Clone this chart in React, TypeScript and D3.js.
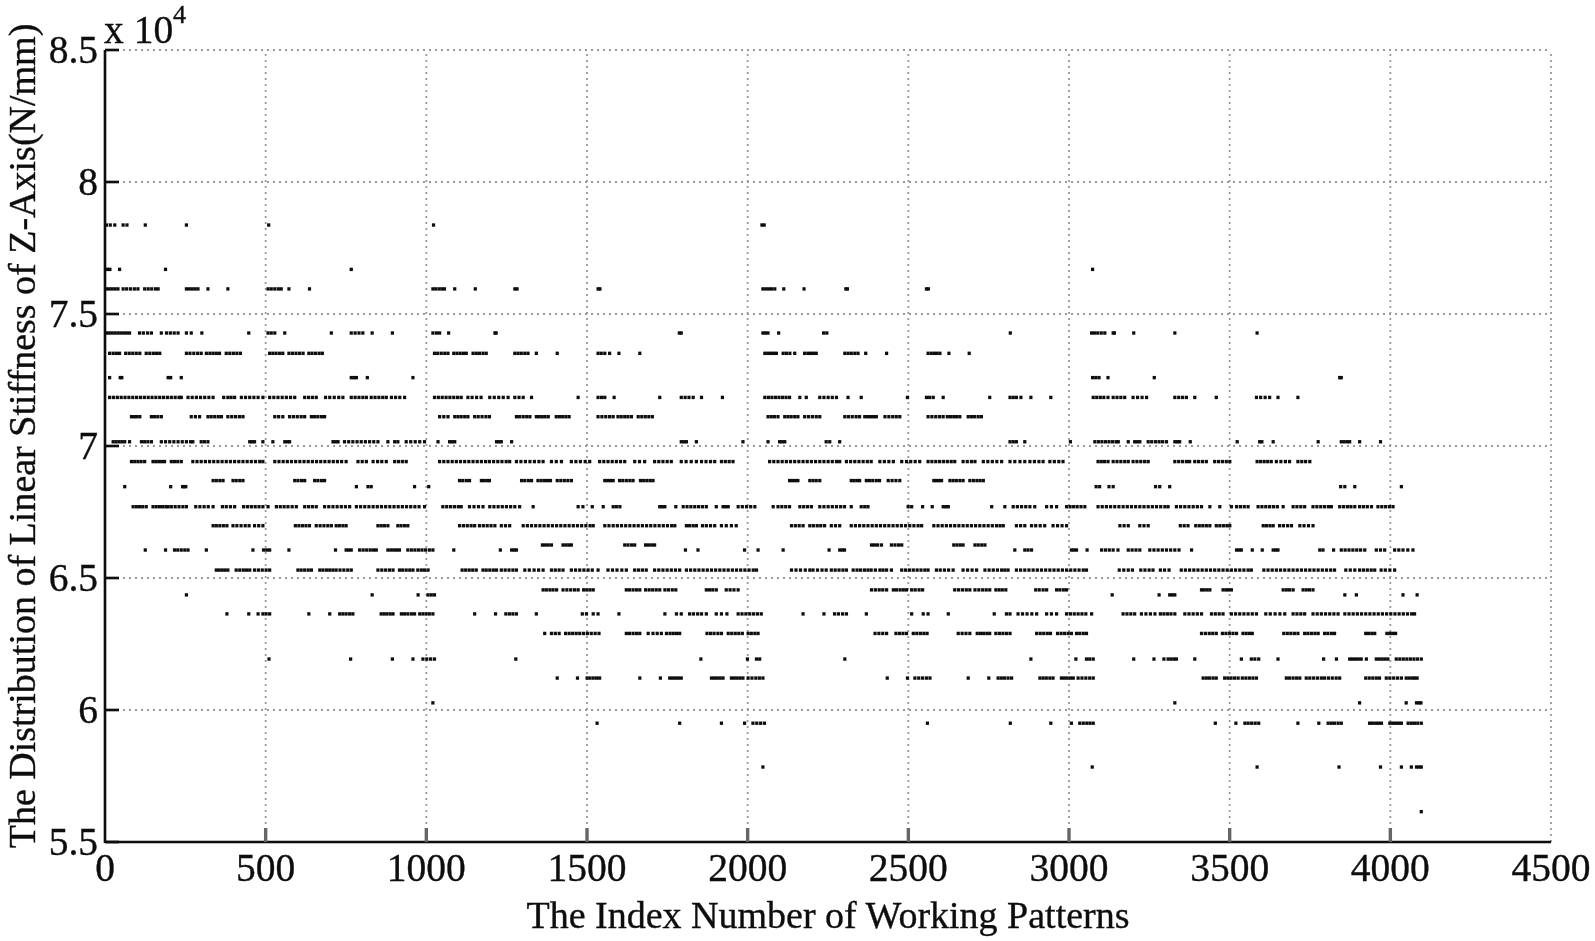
import React from "react";
import * as d3 from "d3";

const xTicks = [0, 500, 1000, 1500, 2000, 2500, 3000, 3500, 4000, 4500];
const yTicks = [55000, 60000, 65000, 70000, 75000, 80000, 85000];
const yTickLabels = ["5.5", "6", "6.5", "7", "7.5", "8", "8.5"];
const xTitle = "The Index Number of Working Patterns";
const yTitle = "The Distribution of Linear Stiffness of Z-Axis(N/mm)";

const r7837 = [5,17,31,57,69,126,254,510,1023,2045,2052];
const r7669 = [8,16,46,189,767,3074];
const r7595 = [5,14,23,32,41,57,68,80,92,103,124,135,146,158,166,254,263,272,281,290,321,383,508,518,529,540,549,573,637,1021,1030,1040,1049,1057,1089,1153,1276,1283,1535,1541,2048,2057,2066,2075,2085,2113,2176,2306,2311,2557,2563];
const r7428 = [5,14,23,32,41,50,59,68,77,108,120,133,145,176,192,204,216,228,254,269,302,448,508,518,529,560,705,767,779,791,803,832,895,1021,1032,1042,1070,1214,1218,1788,1794,2048,2056,2064,2097,2237,2247,2818,3071,3080,3090,3101,3112,3138,3142,3202,3330,3586];
const r7351 = [15,26,36,46,65,76,87,98,109,129,140,151,161,171,254,265,277,289,300,316,327,337,347,357,378,389,400,411,422,513,523,533,544,554,573,584,595,606,617,635,645,656,667,677,1026,1036,1047,1058,1068,1086,1096,1106,1116,1125,1146,1156,1166,1177,1187,1276,1286,1296,1307,1317,1343,1408,1535,1545,1556,1571,1600,1665,2054,2063,2072,2081,2090,2111,2121,2132,2147,2178,2188,2196,2205,2214,2303,2313,2323,2334,2344,2368,2433,2562,2572,2582,2590,2599,2627,2690];
const r7259 = [15,48,53,197,205,238,767,775,783,817,959,3074,3084,3094,3122,3266,3843,3848];
const r7184 = [15,27,39,51,63,75,87,99,111,123,135,147,159,171,183,195,207,219,231,238,259,272,285,298,311,324,337,370,383,393,404,425,438,451,464,477,492,513,526,539,552,565,578,591,622,634,646,658,687,700,714,728,741,767,779,791,803,814,829,841,853,865,876,892,905,918,933,1026,1038,1050,1062,1074,1086,1098,1109,1130,1143,1157,1171,1198,1212,1226,1240,1255,1276,1289,1302,1328,1473,1535,1546,1556,1585,1727,1794,1806,1818,1831,1857,1922,2054,2065,2076,2087,2098,2109,2120,2131,2163,2183,2225,2238,2251,2264,2277,2313,2354,2498,2557,2567,2578,2609,2754,2817,2827,2837,2851,2882,2944,3076,3087,3098,3109,3122,3138,3150,3162,3174,3200,3214,3228,3242,3330,3342,3354,3366,3392,3459,3584,3597,3611,3625,3651,3713];
const r7111 = [83,92,100,109,145,155,165,176,269,282,295,321,331,342,353,363,383,395,407,419,430,529,541,554,575,587,599,611,622,643,653,663,674,684,1042,1055,1068,1089,1099,1109,1120,1130,1151,1162,1174,1186,1197,1281,1291,1302,1313,1323,1343,1352,1361,1370,1380,1405,1415,1425,1435,1445,1535,1547,1559,1571,1582,1597,1607,1618,1628,1639,1660,1671,1682,1693,1704,2064,2074,2084,2095,2116,2126,2136,2147,2157,2178,2190,2202,2214,2225,2303,2314,2326,2338,2349,2365,2374,2383,2392,2401,2428,2440,2452,2463,2474,2562,2574,2586,2598,2609,2622,2632,2642,2651,2661,2687,2697,2707,2718,2728];
const r7016 = [26,35,44,53,62,77,114,124,134,145,176,189,202,215,228,241,254,267,274,300,310,321,451,458,466,492,523,560,568,575,710,718,726,746,759,772,785,798,811,824,837,850,881,902,912,938,952,966,980,995,1037,1073,1081,1089,1219,1226,1234,1266,1794,1802,1810,1841,1986,2064,2100,2108,2116,2245,2256,2287,2817,2827,2837,2863,3005,3081,3092,3103,3114,3125,3136,3147,3154,3185,3205,3213,3221,3247,3258,3270,3281,3292,3304,3330,3338,3345,3378,3524,3594,3601,3636,3776,3848,3857,3866,3874,3905,3970];
const r6941 = [83,93,103,113,124,150,159,168,177,186,207,217,227,238,274,287,300,313,326,339,352,365,378,391,404,417,430,443,456,469,482,492,529,542,555,568,581,594,607,620,633,646,659,672,685,698,711,724,737,751,788,801,814,835,849,862,876,902,914,926,938,1042,1055,1068,1081,1094,1107,1120,1133,1146,1159,1172,1185,1197,1210,1223,1236,1249,1260,1281,1295,1309,1323,1337,1351,1364,1390,1405,1421,1452,1466,1480,1495,1509,1540,1553,1566,1579,1592,1605,1618,1649,1664,1680,1711,1724,1737,1750,1763,1794,1809,1825,1841,1857,1871,1885,1898,1919,1931,1943,1955,2069,2082,2095,2108,2121,2134,2147,2160,2173,2186,2199,2212,2225,2238,2251,2264,2277,2287,2308,2321,2334,2347,2360,2373,2385,2412,2426,2440,2454,2480,2495,2508,2522,2536,2562,2574,2586,2598,2610,2622,2634,2645,2671,2684,2697,2708,2734,2748,2762,2776,2791,2817,2832,2848,2863,2879,2893,2907,2920,2941,2955,2969,2982,3091,3101,3111,3122,3138,3150,3162,3174,3185,3200,3212,3224,3236,3247,3330,3342,3354,3366,3376,3392,3404,3416,3428,3454,3466,3478,3490,3501,3586,3597,3608,3619,3630,3646,3660,3674,3687,3713,3725,3737,3750];
const r6869 = [337,347,358,368,399,409,420,430,591,601,612,622,653,663,674,684,1104,1114,1125,1135,1172,1180,1189,1197,1297,1307,1318,1328,1348,1358,1368,1378,1387,1408,1419,1430,1441,1452,1556,1565,1574,1582,1602,1612,1623,1634,1644,1667,1677,1687,1697,1706,2131,2140,2149,2157,2194,2204,2214,2225,2323,2332,2341,2349,2370,2380,2390,2401,2411,2438,2450,2462,2474,2580,2588,2596,2604,2630,2640,2650,2661,2671,2692,2703,2714,2724,2734];
const r6846 = [62,205,242,247,252,783,819,829,964,1008,3085,3096,3125,3138,3270,3283,3314,3846,3859,3890,4035];
const r6770 = [88,98,108,118,129,150,160,170,180,190,197,207,219,231,243,254,283,296,309,322,337,366,378,391,404,432,444,456,468,480,492,508,534,546,558,570,583,596,622,634,646,658,684,697,710,723,736,749,762,783,796,809,822,835,848,861,874,887,900,913,926,939,952,965,978,995,1052,1064,1076,1088,1100,1109,1135,1149,1163,1177,1198,1211,1224,1237,1250,1263,1276,1291,1333,1473,1488,1517,1551,1582,1592,1603,1727,1735,1743,1777,1800,1812,1824,1836,1848,1860,1872,1903,1924,1932,1940,1971,1984,1997,2010,2023,2080,2095,2107,2119,2131,2163,2175,2187,2199,2225,2238,2251,2264,2277,2290,2302,2323,2354,2365,2375,2500,2511,2545,2575,2609,2617,2625,2760,2801,2827,2840,2853,2866,2879,2894,2931,2946,2962,2993,3004,3015,3026,3038,3050,3091,3104,3117,3130,3143,3156,3169,3182,3195,3208,3221,3234,3247,3260,3273,3286,3299,3309,3335,3348,3361,3374,3387,3400,3413,3439,3470,3506,3522,3534,3546,3558,3589,3601,3613,3625,3637,3649,3667,3698,3710,3722,3734,3760,3772,3784,3796,3808,3817,3843,3855,3867,3878,3890,3905,3917,3929,3942,3962,3974,3986,3998,4009];
const r6698 = [337,347,358,369,380,399,411,424,437,449,466,479,492,593,604,615,626,637,658,670,682,694,705,720,730,741,751,850,860,870,881,912,922,933,943,1104,1116,1128,1140,1151,1166,1178,1190,1202,1214,1234,1247,1260,1302,1315,1328,1341,1354,1367,1380,1393,1406,1419,1432,1445,1458,1471,1484,1497,1510,1520,1556,1569,1582,1595,1608,1621,1634,1647,1660,1673,1686,1699,1712,1725,1738,1751,1764,1774,1810,1820,1831,1841,1860,1872,1885,1898,1919,1934,1950,1965,2137,2149,2161,2173,2194,2205,2217,2228,2240,2261,2274,2287,2323,2336,2349,2362,2375,2388,2401,2414,2427,2440,2453,2466,2479,2492,2505,2518,2531,2542,2580,2593,2606,2619,2632,2645,2658,2671,2684,2697,2710,2723,2736,2749,2762,2775,2786,2796,2837,2850,2863,2884,2897,2911,2925,2951,2965,2979,2993,3159,3172,3185,3221,3234,3247,3347,3359,3371,3395,3406,3417,3428,3439,3459,3470,3481,3492,3501,3605,3615,3626,3636,3656,3668,3681,3693,3719,3732,3746,3760];
const r6625 = [1362,1371,1380,1390,1426,1435,1444,1452,1618,1628,1639,1649,1683,1692,1702,1711,2386,2395,2405,2417,2448,2459,2470,2480,2642,2652,2662,2671,2708,2718,2729,2739];
const r6606 = [126,189,217,227,238,249,259,316,461,494,504,513,573,718,751,759,767,793,804,815,826,836,845,881,890,899,908,917,943,954,965,976,987,998,1010,1021,1086,1231,1266,1274,1281,1807,1846,1991,2033,2111,2254,2287,2295,2302,2832,2863,2873,2884,3008,3016,3024,3057,3102,3114,3126,3138,3153,3185,3197,3209,3221,3252,3265,3278,3291,3304,3317,3330,3343,3382,3522,3530,3537,3571,3602,3636,3644,3651,3781,3791,3824,3848,3860,3872,3884,3896,3908,3921,3957,3970,3983,4014,4027,4040,4055,4071];
const r6530 = [347,356,365,374,383,409,420,431,441,451,466,478,490,502,513,601,611,622,633,643,669,679,690,700,710,720,732,744,756,767,850,862,874,886,897,917,927,938,949,959,974,985,995,1006,1112,1123,1134,1145,1156,1177,1187,1198,1209,1219,1234,1246,1258,1270,1281,1307,1321,1336,1350,1364,1390,1402,1414,1426,1452,1465,1478,1491,1504,1517,1535,1566,1580,1594,1609,1623,1649,1661,1673,1685,1711,1724,1737,1750,1763,1776,1789,1810,1823,1836,1849,1862,1875,1888,1901,1914,1927,1940,1953,1966,1979,1992,2005,2018,2028,2137,2151,2165,2180,2194,2204,2218,2232,2245,2261,2273,2285,2297,2308,2329,2341,2352,2364,2375,2385,2398,2412,2422,2433,2448,2480,2492,2504,2516,2528,2540,2552,2562,2588,2600,2613,2626,2640,2671,2685,2699,2713,2739,2752,2765,2778,2791,2801,2811,2837,2850,2863,2876,2889,2902,2915,2928,2941,2954,2967,2980,2993,3006,3019,3032,3045,3055,3157,3171,3185,3198,3224,3237,3250,3262,3285,3298,3312,3350,3363,3376,3389,3402,3415,3428,3441,3454,3467,3480,3493,3506,3519,3532,3545,3558,3568,3607,3620,3633,3646,3659,3672,3685,3698,3711,3724,3737,3750,3763,3776,3789,3802,3815,3827,3862,3876,3890,3905,3917,3929,3941,3952,3972,3985,3999,4014];
const r6455 = [1364,1374,1385,1395,1406,1426,1438,1450,1462,1473,1490,1500,1510,1520,1623,1633,1644,1655,1665,1683,1694,1705,1716,1727,1743,1754,1766,1777,1872,1882,1892,1903,1934,1946,1958,1971,2386,2398,2410,2421,2433,2454,2464,2475,2485,2495,2511,2522,2534,2545,2645,2657,2669,2681,2692,2708,2720,2732,2743,2754,2773,2783,2793,2804,2897,2908,2920,2931,2962,2972,2983,2993,3413,3421,3430,3439,3480,3489,3497,3506,3667,3677,3687,3698,3729,3739,3749,3760];
const r6436 = [254,832,975,1006,1016,1026,3135,3281,3314,3322,3330,3859,3895,4040,4084];
const r6364 = [380,448,477,492,502,513,635,700,731,741,751,762,772,860,869,878,888,897,923,933,943,954,964,980,990,1000,1010,1021,1151,1216,1248,1259,1270,1281,1343,1486,1499,1520,1535,1600,1743,1779,1794,1820,1832,1845,1857,1872,1903,1919,1936,1971,1983,1995,2007,2019,2031,2043,2173,2238,2271,2283,2296,2308,2370,2511,2547,2562,2625,2768,2806,2817,2842,2856,2870,2885,2900,2931,2946,2962,2993,3005,3017,3029,3041,3053,3071,3169,3181,3193,3205,3226,3240,3254,3268,3285,3296,3307,3318,3330,3361,3374,3387,3400,3413,3444,3456,3468,3480,3506,3519,3532,3545,3558,3571,3584,3613,3627,3642,3657,3672,3698,3710,3722,3734,3760,3773,3786,3799,3812,3825,3838,3859,3872,3885,3898,3911,3924,3937,3950,3963,3976,3989,4002,4015,4028,4041,4054,4067,4076];
const r6290 = [1369,1390,1402,1414,1434,1445,1456,1467,1478,1490,1502,1514,1526,1538,1623,1633,1644,1655,1665,1691,1706,1719,1732,1748,1759,1769,1779,1789,1874,1885,1896,1908,1919,1940,1951,1962,1973,1984,2002,2012,2023,2033,2397,2409,2421,2433,2462,2473,2484,2495,2516,2527,2538,2549,2559,2656,2668,2680,2692,2715,2725,2735,2745,2754,2773,2784,2795,2806,2817,2900,2911,2922,2933,2943,2965,2976,2987,2998,3008,3024,3034,3045,3055,3413,3425,3437,3448,3459,3478,3489,3500,3511,3522,3542,3552,3562,3571,3669,3680,3691,3702,3713,3734,3744,3755,3766,3776,3796,3806,3817,3827,3924,3933,3943,3952,3990,3999,4008,4017];
const r6193 = [511,765,895,959,990,1002,1014,1026,1279,1855,2000,2028,2038,2303,2882,3022,3055,3065,3076,3202,3265,3296,3309,3318,3327,3335,3392,3537,3568,3579,3591,3651,3793,3833,3874,3883,3892,3901,3910,3926,3957,3966,3975,3984,3993,4019,4030,4041,4052,4063,4074,4085,4097];
const r6121 = [1408,1471,1501,1510,1520,1530,1540,1665,1729,1758,1767,1776,1785,1794,1888,1897,1906,1915,1924,1950,1959,1968,1977,1986,2002,2014,2026,2037,2048,2435,2498,2521,2533,2545,2557,2568,2687,2751,2780,2790,2800,2811,2822,2910,2920,2930,2941,2951,2977,2986,2995,3005,3014,3029,3041,3053,3065,3076,3418,3428,3438,3449,3459,3485,3495,3505,3516,3527,3540,3551,3562,3573,3584,3677,3687,3698,3709,3719,3739,3750,3762,3774,3786,3796,3808,3820,3832,3843,3924,3935,3946,3957,3967,3988,3999,4011,4023,4035,4050,4059,4068,4076,4084];
const r6027 = [1021,3330,3905,4050,4082,4090,4096];
const r5950 = [1532,1789,1919,1991,2017,2029,2041,2053,2560,2818,2944,3008,3034,3045,3056,3066,3076,3456,3520,3548,3558,3569,3580,3591,3713,3778,3807,3817,3827,3838,3848,3936,3945,3955,3964,3973,3999,4008,4017,4026,4035,4056,4066,4076,4086,4097];
const r5784 = [2048,3073,3586,3841,3970,4035,4066,4082,4090,4097];
const r5615 = [4097];

const stiffnessLevels = [78370,76690,75950,74280,73510,72590,71840,71110,70160,69410,68690,68460,67700,66980,66250,66060,65300,64550,64360,63640,62900,61930,61210,60270,59500,57840,56150];
const indexRows = [r7837,r7669,r7595,r7428,r7351,r7259,r7184,r7111,r7016,r6941,r6869,r6846,r6770,r6698,r6625,r6606,r6530,r6455,r6436,r6364,r6290,r6193,r6121,r6027,r5950,r5784,r5615];

const FONT = "'Liberation Serif', 'Times New Roman', serif";
const INK = "#0c0c0c";
const x = d3.scaleLinear().domain([0, 4500]).range([105, 1551]);
const y = d3.scaleLinear().domain([55000, 85000]).range([842, 50]);
const TICK = 14;

export default function App() {
  return (
    <svg width={1595} height={941} viewBox="0 0 1595 941"
      style={{ position: "absolute", left: 0, top: 0, background: "#fff" }}>
      <defs>
        <filter id="soft" x="-2%" y="-2%" width="104%" height="104%">
          <feGaussianBlur stdDeviation="0.6" />
        </filter>
      </defs>
      <g filter="url(#soft)">
        <g stroke="#999" strokeWidth={1.8} strokeDasharray="2 4" fill="none">
          {xTicks.slice(1).map((t) => (
            <line key={t} x1={x(t)} x2={x(t)} y1={y.range()[0]} y2={y.range()[1]} />
          ))}
          {yTicks.slice(1).map((t) => (
            <line key={t} x1={x.range()[0]} x2={x.range()[1]} y1={y(t)} y2={y(t)} />
          ))}
        </g>
        <g fill="#111">
          {indexRows.map((row, i) =>
            row.map((v) => (
              <rect key={`${i}-${v}`} x={x(v) - 1.8} y={y(stiffnessLevels[i]) - 1.7} width={3.2} height={3.4} />
            ))
          )}
        </g>
        <g stroke={INK} strokeWidth={2.6} fill="none">
          <line x1={x.range()[0]} x2={x.range()[0]} y1={y.range()[1]} y2={y.range()[0] + 1} />
          <line x1={x.range()[0]} x2={x.range()[1]} y1={y.range()[0]} y2={y.range()[0]} />
          {yTicks.map((t) => (
            <line key={t} x1={x.range()[0]} x2={x.range()[0] + TICK} y1={y(t)} y2={y(t)} />
          ))}
        </g>
        <g stroke="#666" strokeWidth={3.4} fill="none">
          {xTicks.slice(1, -1).map((t) => (
            <line key={t} x1={x(t)} x2={x(t)} y1={y.range()[0]} y2={y.range()[0] - TICK} />
          ))}
        </g>
        <g fontFamily={FONT} fontSize={39.5} fill={INK} stroke={INK} strokeWidth={0.35}>
          {yTicks.map((t, i) => (
            <text key={t} x={98} y={y(t) + 13} textAnchor="end">{yTickLabels[i]}</text>
          ))}
          {xTicks.map((t) => (
            <text key={t} x={x(t)} y={881} textAnchor="middle">{t}</text>
          ))}
          <text x={104} y={43}>x 10</text>
          <text x={173} y={23} fontSize={26}>4</text>
          <text x={828} y={928} textAnchor="middle" fontSize={38}>{xTitle}</text>
          <text transform="translate(35,436) rotate(-90)" textAnchor="middle" fontSize={38}>{yTitle}</text>
        </g>
      </g>
    </svg>
  );
}
